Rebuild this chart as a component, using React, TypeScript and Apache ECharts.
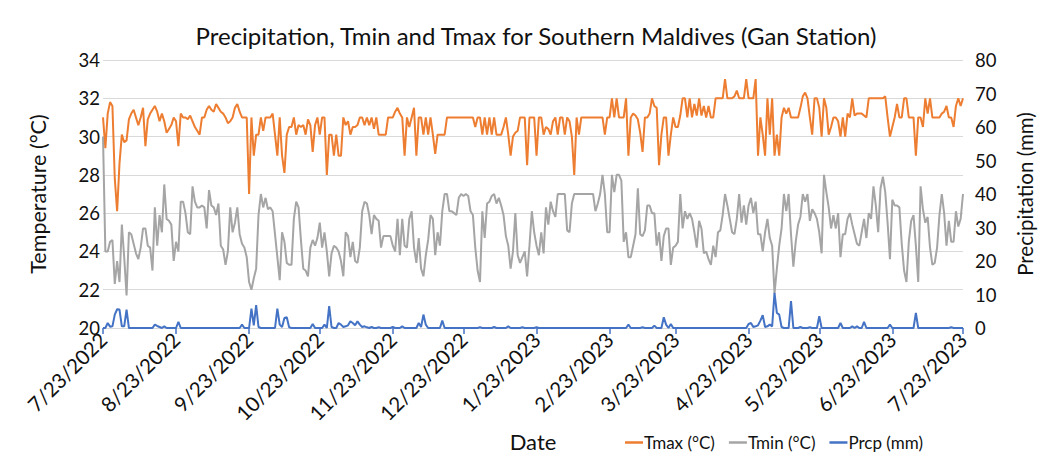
import React, { useEffect, useRef } from "react";
import * as echarts from "echarts";

const START_YEAR = 2022;
const START_MONTH = 7;
const START_DAY = 23;

const TITLE = "Precipitation, Tmin and Tmax for Southern Maldives (Gan Station)";
const SERIES_NAMES = ["Tmax (°C)", "Tmin (°C)", "Prcp (mm)"];

const tmax = [
  31.0, 29.4, 31.2, 31.8, 31.6, 27.8, 26.1, 28.6, 30.1, 29.7,
  29.8, 30.9, 31.2, 31.4, 31.0, 30.6, 31.0, 31.5, 29.5, 30.9,
  31.2, 31.4, 31.6, 31.3, 30.8, 31.2, 30.8, 30.2, 30.4, 30.6,
  31.0, 30.8, 29.5, 31.2, 31.0, 31.0, 30.9, 31.1, 30.8, 30.5,
  30.3, 30.1, 31.0, 31.0, 31.4, 31.6, 31.4, 31.3, 31.7, 31.5,
  31.3, 31.2, 31.0, 30.7, 30.8, 31.0, 31.5, 31.7, 31.3, 31.0,
  31.0, 31.0, 27.0, 31.0, 29.0, 30.1, 30.1, 31.0, 30.3, 31.0,
  31.0, 31.0, 31.2, 30.1, 29.0, 31.0, 29.0, 28.1, 30.1, 30.5,
  30.5, 31.0, 30.1, 30.6, 30.5, 30.6, 30.1, 30.9, 30.6, 29.2,
  30.6, 31.0, 30.1, 31.0, 31.0, 28.0, 30.1, 30.1, 29.0, 30.1,
  29.0, 29.0, 31.0, 30.6, 30.8, 30.1, 30.5, 30.5, 30.6, 31.0,
  31.0, 30.6, 31.0, 30.6, 31.0, 30.4, 31.0, 30.1, 30.1, 30.1,
  30.1, 31.0, 31.0, 31.0, 31.3, 31.5, 31.2, 31.0, 29.0, 31.0,
  30.5, 31.0, 31.5, 29.0, 31.0, 31.0, 30.1, 31.0, 30.1, 31.0,
  30.1, 29.1, 30.1, 30.1, 30.1, 30.1, 31.0, 31.0, 31.0, 31.0,
  31.0, 31.0, 31.0, 31.0, 31.0, 31.0, 31.0, 31.0, 30.5, 31.0,
  31.0, 30.1, 31.0, 30.1, 31.0, 30.1, 31.0, 30.1, 30.1, 30.1,
  30.5, 31.0, 30.1, 29.0, 30.0, 30.2, 30.3, 31.0, 31.0, 31.0,
  28.5, 31.0, 31.0, 31.0, 29.0, 31.0, 31.0, 30.1, 30.5, 30.4,
  30.1, 30.8, 31.0, 30.1, 31.0, 31.0, 30.1, 31.0, 30.8, 30.0,
  28.0, 31.0, 30.1, 31.0, 31.0, 31.0, 31.0, 31.0, 31.0, 31.0,
  31.0, 31.0, 31.0, 30.1, 31.0, 31.0, 32.0, 31.0, 32.0, 31.0,
  31.0, 31.0, 32.0, 29.0, 31.0, 31.2, 31.1, 30.9, 30.2, 29.2,
  31.0, 31.0, 31.2, 32.0, 31.6, 31.5, 28.5, 30.1, 31.0, 31.0,
  29.0, 30.1, 31.0, 30.5, 30.5, 31.1, 32.0, 32.0, 31.0, 32.0,
  31.0, 31.7, 31.1, 32.0, 31.1, 31.6, 31.0, 31.6, 31.0, 31.0,
  32.0, 32.0, 32.0, 32.0, 33.0, 32.0, 32.0, 32.0, 32.1, 32.4,
  32.0, 32.0, 32.0, 33.0, 32.0, 32.0, 32.0, 33.0, 29.0, 31.0,
  30.1, 29.0, 32.0, 30.1, 32.0, 29.0, 30.1, 29.0, 31.0, 31.5,
  31.2, 31.5, 31.0, 31.0, 31.0, 31.0, 31.5, 32.1, 32.3, 32.0,
  31.0, 30.1, 32.0, 32.0, 31.5, 30.0, 32.0, 31.5, 30.1, 30.5,
  31.0, 31.0, 30.8, 30.0, 31.0, 30.0, 31.2, 31.0, 32.0, 31.1,
  31.2, 31.2, 31.2, 31.1, 31.0, 32.0, 32.0, 32.0, 32.0, 32.0,
  32.0, 32.0, 32.1, 31.0, 30.0, 30.5, 31.0, 31.7, 31.0, 31.0,
  32.0, 32.0, 31.0, 31.0, 31.0, 29.0, 31.0, 31.0, 30.5, 32.0,
  31.2, 32.0, 31.0, 31.0, 31.0, 31.0, 31.2, 31.3, 31.6, 31.0,
  31.0, 30.5, 31.6, 32.0, 31.6, 32.0,
];

const tmin = [
  30.0, 24.0, 24.0, 24.5, 24.6, 22.3, 23.5, 22.4, 25.4, 23.7,
  21.7, 25.0, 24.9, 24.4, 23.9, 23.6, 24.2, 25.2, 25.2, 24.3,
  24.2, 23.0, 26.3, 24.3, 25.9, 25.0, 27.5, 25.7, 25.6, 25.4,
  23.5, 24.5, 24.0, 26.6, 26.6, 26.0, 25.0, 24.9, 27.4, 26.6,
  26.3, 26.3, 26.4, 26.3, 25.2, 27.2, 26.4, 26.3, 25.9, 26.5,
  24.3, 24.1, 23.3, 24.0, 26.3, 25.0, 25.5, 26.3, 24.9, 24.4,
  24.2, 23.7, 22.4, 22.0, 22.6, 23.1, 25.9, 27.0, 26.3, 26.8,
  26.2, 26.3, 26.1, 24.9, 23.7, 22.5, 25.0, 24.5, 23.4, 23.3,
  23.3, 25.7, 26.6, 26.3, 24.6, 23.1, 23.0, 22.7, 24.2, 24.6,
  24.3, 24.7, 25.5, 24.2, 25.0, 24.0, 22.7, 23.9, 24.3, 24.2,
  24.0, 23.5, 22.7, 25.0, 24.8, 23.7, 24.5, 23.5, 23.4, 24.2,
  26.1, 26.6, 26.5, 25.9, 24.9, 25.9, 25.7, 25.6, 24.2, 24.8,
  24.8, 24.8, 24.8, 24.3, 24.0, 25.7, 23.8, 25.7, 24.3, 24.2,
  25.7, 26.1, 24.2, 23.4, 24.7, 23.1, 22.7, 23.8, 24.6, 25.9,
  25.7, 23.8, 25.0, 24.3, 26.1, 27.0, 27.0, 26.1, 26.1, 26.0,
  25.9, 26.8, 27.0, 26.9, 27.0, 26.9, 26.1, 25.9, 24.2, 23.0,
  22.4, 26.1, 24.7, 26.5, 26.6, 26.9, 27.0, 26.5, 26.8, 26.4,
  25.9, 24.8, 24.3, 23.1, 24.0, 26.0, 23.8, 23.4, 23.7, 24.0,
  22.7, 24.3, 26.1, 25.0, 24.3, 23.8, 25.0, 23.9, 26.3, 25.4,
  26.6, 26.1, 25.8, 27.0, 27.0, 27.0, 27.0, 25.1, 25.0, 26.5,
  27.0, 27.0, 27.0, 27.0, 27.0, 27.0, 27.0, 27.0, 27.0, 26.1,
  26.5, 27.0, 28.0, 27.0, 25.0, 25.0, 28.0, 27.1, 28.0, 28.0,
  27.7, 24.5, 25.0, 23.7, 23.7, 24.3, 24.9, 27.3, 24.9, 24.8,
  25.1, 26.4, 26.4, 26.0, 26.0, 24.3, 25.0, 23.5, 24.8, 25.2,
  25.2, 23.3, 24.2, 24.3, 24.5, 27.0, 25.2, 26.1, 25.7, 26.0,
  25.7, 25.0, 24.2, 25.6, 25.2, 23.9, 24.0, 23.6, 23.3, 24.3,
  23.7, 25.0, 25.1, 25.9, 27.0, 26.4, 25.7, 25.0, 24.9, 25.7,
  27.0, 25.5, 26.4, 25.4, 26.4, 26.8, 26.0, 26.6, 24.9, 24.9,
  24.0, 25.0, 25.7, 24.7, 24.3, 21.8, 23.1, 24.3, 25.2, 27.0,
  26.1, 27.0, 24.9, 23.2, 24.5, 25.4, 25.8, 27.0, 26.6, 27.0,
  25.6, 26.2, 26.0, 25.7, 25.0, 23.9, 28.0, 27.1, 26.3, 25.2,
  25.9, 25.2, 26.0, 23.7, 24.9, 24.9, 25.7, 26.0, 25.4, 24.9,
  24.4, 24.3, 25.0, 25.7, 24.7, 26.0, 25.7, 27.4, 26.4, 25.0,
  27.3, 27.9, 27.1, 25.5, 23.6, 26.7, 26.4, 26.4, 26.3, 24.4,
  23.0, 22.4, 24.5, 25.6, 25.9, 24.3, 22.4, 27.4, 26.2, 25.5,
  25.8, 24.2, 23.3, 23.4, 24.2, 25.9, 27.0, 26.0, 24.3, 25.6,
  24.5, 24.5, 26.1, 25.3, 25.7, 27.0,
];

const prcp = [
  0, 0, 1.5, 0.4, 0.5, 4.0, 5.6, 5.5, 0.5, 0.5,
  5.5, 0, 0, 0, 0, 0, 0, 0, 0, 0,
  0, 0, 1.0, 0.6, 0.3, 0, 0.5, 0, 0, 0,
  0, 0, 1.8, 0, 0, 0, 0, 0, 0, 0,
  0, 0, 0, 0, 0, 0, 0, 0, 0, 0,
  0, 0, 0, 0, 0, 0, 0, 0, 0, 1.0,
  0, 0, 0, 5.8, 0.8, 6.8, 0.3, 0, 0, 0,
  0, 0, 0, 0, 5.8, 1.0, 0.3, 3.0, 3.2, 0.2,
  0, 0, 0, 0, 0, 0, 0, 0, 0, 1.2,
  0, 0, 0, 0, 1.0, 0, 6.5, 0.3, 0, 0,
  1.5, 1.0, 0.3, 0.5, 0.8, 2.0, 1.5, 0.8, 2.0, 1.0,
  0.3, 0.5, 0.2, 0, 0.3, 0, 0, 0.2, 0, 0,
  0, 0, 0, 0.3, 0, 0, 0, 0.5, 0, 0,
  0, 0, 0, 0, 1.5, 0.3, 4.0, 1.0, 0, 0,
  0, 0, 0, 0, 2.2, 0, 0, 0, 0, 0,
  0, 0, 0, 0, 0, 0, 0, 0, 0, 0,
  0.2, 0, 0, 0, 0, 0, 0.3, 0, 0, 0,
  0, 0, 0.5, 0, 0, 0, 0, 0, 0.2, 0,
  0, 0, 0, 0, 0.2, 0, 0, 0, 0, 0,
  0, 0, 0, 0, 0, 0, 0, 0, 0, 0,
  0, 0, 0, 0, 0, 0, 0, 0, 0, 0,
  0, 0, 0, 0, 0, 0, 0, 0, 0, 0,
  0, 0, 0, 1.0, 0, 0, 0, 0, 0, 0.2,
  0, 0, 0, 0, 0.7, 0, 0, 0, 3.2, 1.0,
  0, 1.2, 0, 0, 0, 0, 0, 0, 0, 0,
  0, 0, 0, 0, 0, 0, 0, 0, 0, 0,
  0, 0, 0, 0, 0, 0, 0, 0, 0, 0,
  0, 0, 0, 0, 1.2, 1.5, 0.3, 0.5, 0.8, 2.2,
  3.8, 0.3, 0.5, 1.0, 0.5, 10.5, 4.5, 4.0, 0.3, 0,
  0, 0, 8.0, 0, 0, 0, 0.3, 0, 0, 0,
  0.2, 0, 0, 0, 3.5, 0, 0, 0, 0, 0,
  0, 0, 0, 1.5, 0, 0, 0, 0, 0.5, 0,
  0.5, 0, 0, 1.8, 0, 0, 0, 0, 0, 0,
  0, 0, 0, 0, 1.0, 0, 0, 0, 0, 0,
  0, 0, 0, 0, 0, 4.5, 0, 0, 0, 0,
  0, 0, 0, 0, 0, 0, 0, 0, 0, 0,
  0.2, 0, 0, 0, 0, 0,
];

function buildDates(n: number): string[] {
  const out: string[] = [];
  for (let i = 0; i < n; i++) {
    const dt = new Date(Date.UTC(START_YEAR, START_MONTH - 1, START_DAY + i));
    out.push(`${dt.getUTCMonth() + 1}/${dt.getUTCDate()}/${dt.getUTCFullYear()}`);
  }
  return out;
}

const FONT = "Lato";
const TEXT = "#111111";

export default function App() {
  const ref = useRef<HTMLDivElement>(null);
  useEffect(() => {
    if (!ref.current) return;
    const chart = echarts.init(ref.current, undefined, { renderer: "svg" });
    const dates = buildDates(tmax.length);
    const monthly = (_i: number, v: string) => String(v).split("/")[1] === String(START_DAY);
    chart.setOption({
      animation: false,
      textStyle: { fontFamily: FONT },
      title: {
        text: TITLE,
        left: 531,
        textAlign: "center",
        top: 18,
        textStyle: { fontFamily: FONT, fontSize: 24, fontWeight: "normal", color: TEXT },
      },
      grid: { left: 103, right: 75, top: 60, bottom: 128, containLabel: false, outerBoundsMode: "none" },
      legend: {
        left: 620,
        top: 429,
        icon: "rect",
        itemWidth: 18,
        itemHeight: 2.5,
        itemGap: 14,
        textStyle: { fontFamily: FONT, fontSize: 17, color: TEXT, padding: [0, 0, 0, -4] },
        data: SERIES_NAMES,
      },
      xAxis: {
        type: "category",
        data: dates,
        boundaryGap: false,
        name: "Date",
        nameLocation: "middle",
        nameGap: 99,
        nameTextStyle: { fontFamily: FONT, fontSize: 22, color: TEXT },
        axisLine: { show: true, lineStyle: { color: "#d9d9d9" } },
        axisTick: { show: true, interval: monthly, length: 6, lineStyle: { color: "#4472C4", width: 1.5 } },
        axisLabel: { interval: monthly, rotate: 45, fontSize: 20.5, color: TEXT, margin: 8, fontFamily: FONT },
        splitLine: { show: false },
      },
      yAxis: [
        {
          type: "value",
          min: 20,
          max: 34,
          interval: 2,
          name: "Temperature (°C)",
          nameLocation: "middle",
          nameRotate: 90,
          nameGap: 54,
          nameTextStyle: { fontFamily: FONT, fontSize: 21.5, color: TEXT },
          axisLine: { show: false },
          axisTick: { show: false },
          axisLabel: { fontSize: 18.5, color: TEXT, margin: 3, fontFamily: FONT },
          splitLine: { show: true, lineStyle: { color: "#d9d9d9", width: 1 } },
        },
        {
          type: "value",
          min: 0,
          max: 80,
          interval: 10,
          position: "right",
          name: "Precipitation (mm)",
          nameLocation: "middle",
          nameRotate: 90,
          nameGap: 51,
          nameTextStyle: { fontFamily: FONT, fontSize: 20.5, color: TEXT },
          axisLine: { show: false },
          axisTick: { show: false },
          axisLabel: { fontSize: 18.5, color: TEXT, margin: 12, fontFamily: FONT },
          splitLine: { show: false },
        },
      ],
      series: [
        {
          name: SERIES_NAMES[0],
          type: "line",
          yAxisIndex: 0,
          data: tmax,
          showSymbol: false,
          color: "#ED7D31",
          lineStyle: { width: 2, color: "#ED7D31" },
        },
        {
          name: SERIES_NAMES[1],
          type: "line",
          yAxisIndex: 0,
          data: tmin,
          showSymbol: false,
          color: "#A5A5A5",
          lineStyle: { width: 2, color: "#A5A5A5" },
        },
        {
          name: SERIES_NAMES[2],
          type: "line",
          yAxisIndex: 1,
          data: prcp,
          showSymbol: false,
          color: "#4472C4",
          lineStyle: { width: 2, color: "#4472C4" },
        },
      ],
    });
    return () => chart.dispose();
  }, []);
  return (
    <div
      ref={ref}
      style={{ position: "fixed", left: 0, top: 0, width: 1038, height: 456, background: "#ffffff" }}
    />
  );
}
